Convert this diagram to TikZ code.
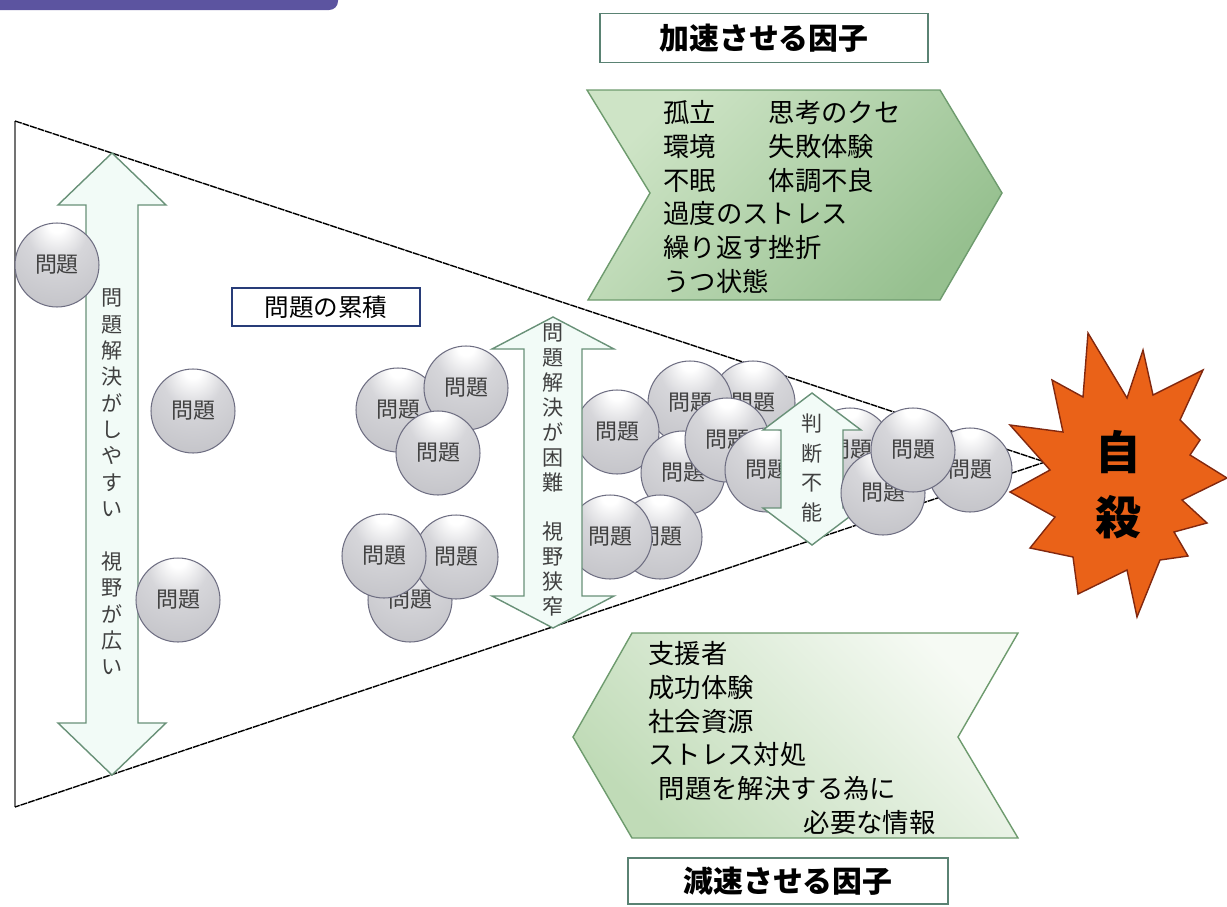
\documentclass[tikz,border=0pt]{standalone}
\usepackage{fontspec}
\setmainfont{Noto Sans CJK JP}

\definecolor{barblue}{RGB}{92,84,160}
\definecolor{ballbody}{RGB}{192,192,197}
\definecolor{ballmid}{RGB}{214,214,218}
\definecolor{balledge}{RGB}{172,172,182}
\definecolor{ballrim}{RGB}{110,110,130}
\definecolor{arrowline}{RGB}{105,145,120}
\definecolor{arrowfill}{RGB}{242,251,247}
\definecolor{chevronline}{RGB}{110,155,110}
\definecolor{accellight}{RGB}{206,228,198}
\definecolor{acceldark}{RGB}{150,192,143}
\definecolor{decellight}{RGB}{246,250,244}
\definecolor{deceldark}{RGB}{192,219,183}
\definecolor{titleline}{RGB}{90,130,115}
\definecolor{navyline}{RGB}{40,60,120}
\definecolor{burstfill}{RGB}{234,98,24}
\definecolor{burstline}{RGB}{130,40,15}

\pgfdeclareradialshading{problemball}{\pgfpoint{0bp}{26bp}}{color(0bp)=(white); color(5bp)=(white); color(18bp)=(ballmid); color(45bp)=(ballbody); color(80bp)=(balledge)}

% two-headed upright arrow: x, top tip, bottom tip, head half width, shaft half width, head length
\newcommand\twoway[6]{%
  \draw[twoway] (#1,#2) -- ({#1+#4},{#2+#6}) -- ({#1+#5},{#2+#6}) -- ({#1+#5},{#3-#6})
    -- ({#1+#4},{#3-#6}) -- (#1,#3) -- ({#1-#4},{#3-#6}) -- ({#1-#5},{#3-#6})
    -- ({#1-#5},{#2+#6}) -- ({#1-#4},{#2+#6}) -- cycle;}

\def\ballsize{1.68cm}

\begin{document}
\begin{tikzpicture}[x=0.02cm,y=-0.02cm]
    \tikzstyle{ball}=[circle,draw=ballrim,line width=0.6pt,shading=problemball,minimum size=\ballsize,inner sep=0pt,text=black!75,font=\fontsize{12.5pt}{12.5pt}\selectfont]
    \tikzstyle{twoway}=[draw=arrowline,fill=arrowfill,line width=0.8pt,line join=miter]
    \tikzstyle{vtext}=[align=center,text=black!75,inner sep=0pt]
    \tikzstyle{funnel}=[black,line width=0.8pt,dash pattern=on 4pt off 0.5pt]
    \tikzstyle{title box}=[draw=titleline,line width=0.9pt,fill=white,inner sep=0pt,font=\bfseries\fontsize{17pt}{17pt}\selectfont]
    \tikzstyle{factor list}=[align=left,inner sep=0pt,font=\fontsize{15pt}{19.2pt}\selectfont]

    \useasboundingbox (0,0) rectangle (1227,906);

    % Draw the bar at the top
    \fill[barblue,rounded corners=5pt] (-10,-20) rectangle (338,10);

    % Draw the funnel
    \coordinate (F-top) at (15,121);
    \coordinate (F-bot) at (15,807);
    \coordinate (F-tip) at (1045,462);
    \draw[black!55,line width=0.8pt] (F-top) -- (F-bot);
    \draw[funnel] (F-top) -- (F-tip) -- (F-bot);

    % Draw the wide arrow and its text
    \twoway{112}{153}{775}{54}{26}{52}
    \node[vtext,font=\fontsize{12pt}{15pt}\selectfont] (wide) at (112,482)
        {問\\題\\解\\決\\が\\し\\や\\す\\い\\[15pt]視\\野\\が\\広\\い};

    % Draw the problems, back to front
    \foreach \name / \x / \y in {1/57/265, 2/193/411, 3/178/600,
                                 4/398/410, 5/466/388, 6/438/453,
                                 7/410/600, 8/456/557, 9/384/556,
                                 10/753/403, 11/690/403, 12/617/432, 13/683/473, 14/727/440,
                                 15/660/537, 16/610/537, 17/767/470, 18/850/450}
        \node[ball] (B-\name) at (\x,\y) {問題};

    % Draw the narrow arrows
    \twoway{553}{317}{628}{61}{29}{32}
    \node[vtext,font=\fontsize{12pt}{14.2pt}\selectfont] (narrow) at (553,470)
        {問\\題\\解\\決\\が\\困\\難\\[14.2pt]視\\野\\狭\\窄};
    \twoway{812}{393}{545}{49}{31}{37}
    \node[vtext,font=\fontsize{12pt}{17pt}\selectfont] (judge) at (812,468)
        {判\\断\\不\\能};

    % Draw the problems at the tip
    \foreach \name / \x / \y in {19/970/470, 20/883/493, 21/913/450}
        \node[ball] (B-\name) at (\x,\y) {問題};

    % Annotate the funnel
    \node[draw=navyline,line width=1pt,fill=white,minimum width=3.76cm,minimum height=0.76cm,
          font=\fontsize{14pt}{14pt}\selectfont] (pile) at (326,307) {問題の累積};

    % Draw the factors
    \node[title box,minimum width=6.56cm,minimum height=0.98cm] (accel) at (764,38) {加速させる因子};
    \draw[draw=chevronline,line width=0.8pt,top color=accellight,bottom color=acceldark,shading angle=45]
        (587,90) -- (940,90) -- (1002,193) -- (940,300) -- (588,300) -- (650,193) -- cycle;
    \node[factor list,anchor=west] (accel-list) at (663,197)
        {孤立　　思考のクセ\\環境　　失敗体験\\不眠　　体調不良\\過度のストレス\\繰り返す挫折\\うつ状態};

    \draw[draw=chevronline,line width=0.8pt,top color=decellight,bottom color=deceldark,shading angle=-45]
        (632,633) -- (1018,633) -- (958,737) -- (1018,838) -- (632,838) -- (573,737) -- cycle;
    \node[factor list,anchor=west] (decel-list) at (648,738)
        {支援者\\成功体験\\社会資源\\ストレス対処\\\hspace*{0.4em}問題を解決する為に\\\hspace*{5.9em}必要な情報};
    \node[title box,minimum width=6.4cm,minimum height=0.92cm] (decel) at (788,881) {減速させる因子};

    % Draw the end point
    \draw[fill=burstfill,draw=burstline,line width=0.8pt,line join=miter]
        (1088,333) -- (1127,398) -- (1143,350) -- (1153,395) -- (1203,370) -- (1180,420)
        -- (1200,440) -- (1190,455) -- (1227,478) -- (1182,500) -- (1207,523) -- (1174,532)
        -- (1188,556) -- (1160,560) -- (1137,617) -- (1127,570) -- (1078,594) -- (1073,557)
        -- (1030,548) -- (1055,517) -- (1010,492) -- (1050,470) -- (1010,425) -- (1063,432)
        -- (1052,380) -- (1083,397) -- cycle;
    \node[align=center,font=\bfseries\fontsize{26pt}{37pt}\selectfont] (suicide) at (1118,485) {自\\殺};
\end{tikzpicture}
\end{document}
